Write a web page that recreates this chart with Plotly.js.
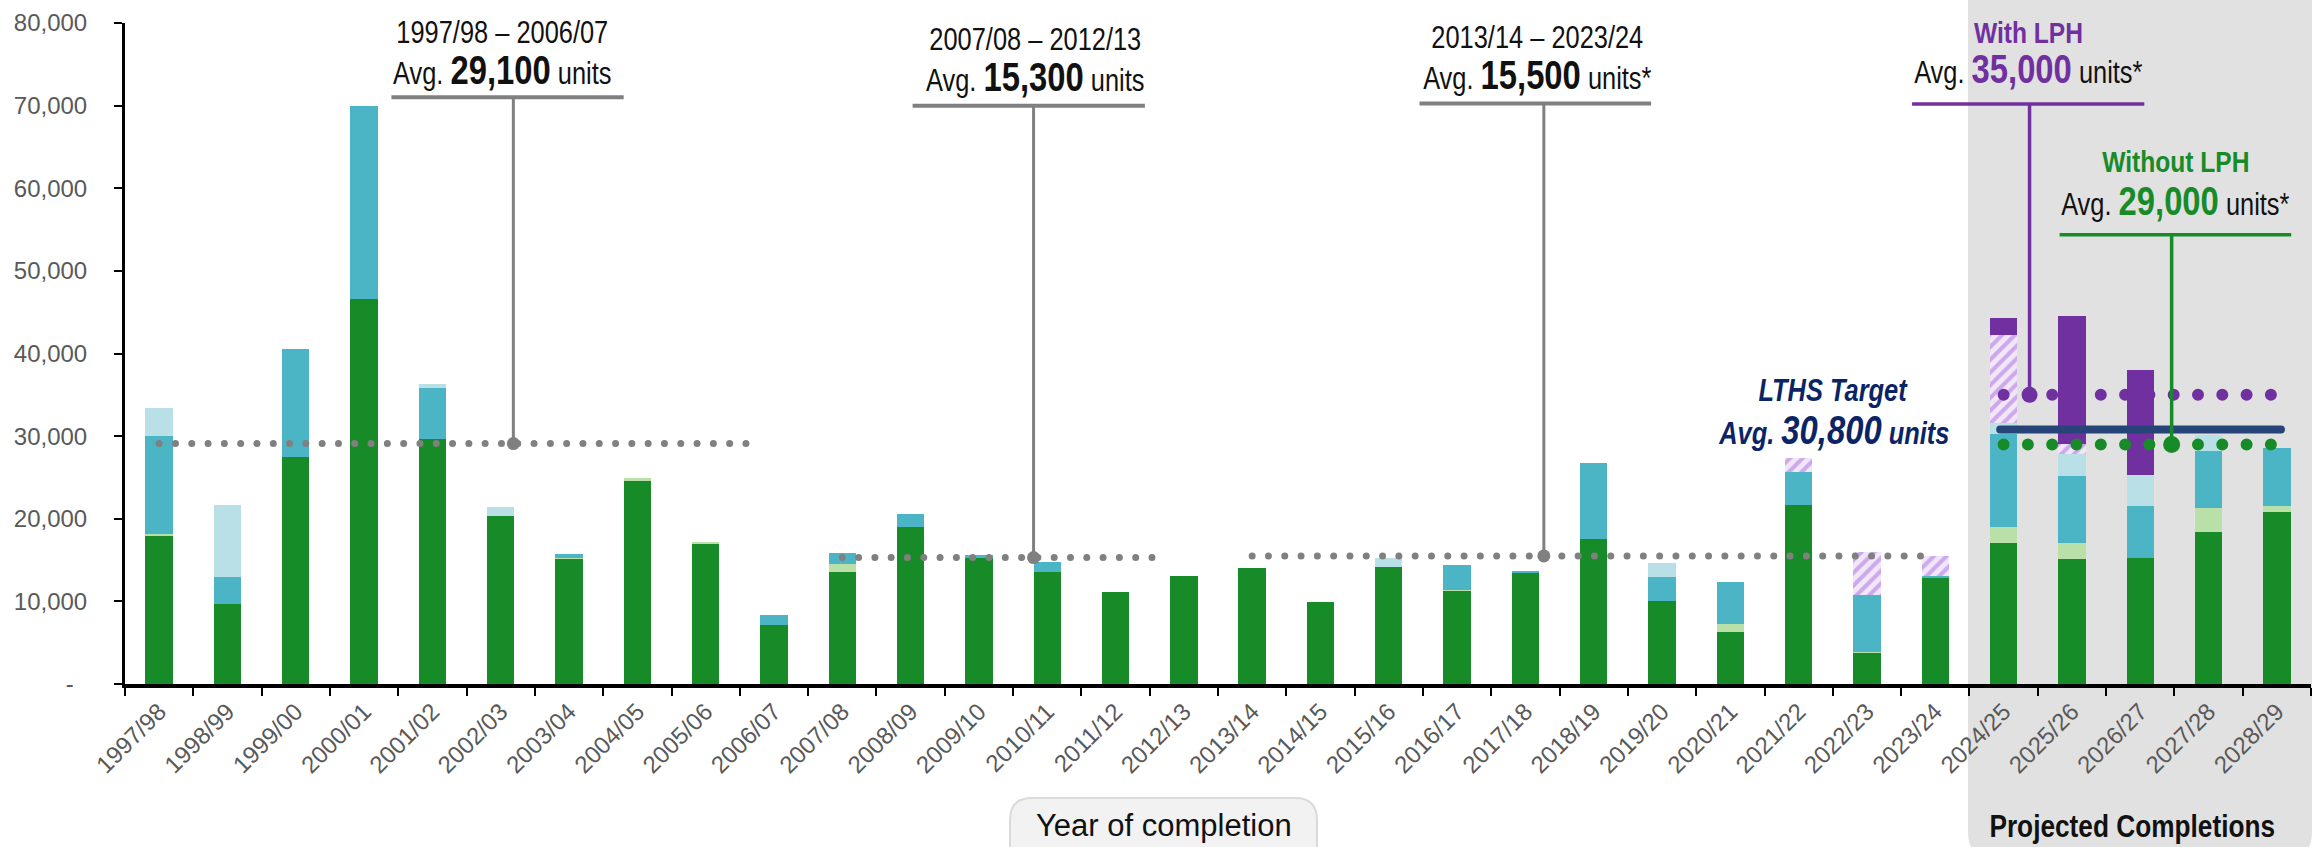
<!DOCTYPE html>
<html>
<head>
<meta charset="utf-8">
<script src="https://cdn.plot.ly/plotly-3.0.1.min.js"></script>
<style>
  html, body { margin: 0; padding: 0; background: #ffffff; }
  #chart { width: 2318px; height: 847px; }
  .scatterlayer .js-line { stroke-linecap: round !important; }
</style>
</head>
<body>
<div id="chart"></div>
<script>
// ---------------- DATA ----------------
const categories = ['1997/98','1998/99','1999/00','2000/01','2001/02','2002/03','2003/04','2004/05','2005/06','2006/07',
  '2007/08','2008/09','2009/10','2010/11','2011/12','2012/13','2013/14','2014/15','2015/16','2016/17',
  '2017/18','2018/19','2019/20','2020/21','2021/22','2022/23','2023/24','2024/25','2025/26','2026/27','2027/28','2028/29'];

const darkGreenUnits  = [17900, 9700,27500,46600,29700,20300,15100,24600,17000, 7200,
                         13600,19000,15300,13600,11100,13100,14000, 9900,14200,11200,
                         13400,17500,10000, 6300,21700, 3700,12800,17100,15100,15300,18400,20800];
const lightGreenUnits = [  200,    0,    0,    0,    0,    0,  200,  300,  150,    0,
                           900,    0,    0,    0,    0,    0,    0,    0,    0,  150,
                             0,    0,    0, 1000,    0,  200,    0, 1900, 1950,    0, 2950,  700];
const tealUnits       = [11950, 3300,13100,23400, 6100,    0,  400,    0,    0, 1200,
                          1400, 1600,  350, 1200,    0,    0,    0,    0,    0, 3100,
                           300, 9200, 3000, 5000, 4000, 6900,  300,11200, 8100, 6200, 6850, 7050];
const lightBlueUnits  = [ 3300, 8700,    0,    0,  500, 1100,    0,    0,    0,    0,
                             0,    0,    0,    0,    0,    0,    0,    0, 1000,    0,
                             0,    0, 1600,    0,    0,    0,    0, 1400, 2700, 3850, 1900,    0];
const hatchedUnits    = [    0,    0,    0,    0,    0,    0,    0,    0,    0,    0,
                             0,    0,    0,    0,    0,    0,    0,    0,    0,    0,
                             0,    0,    0,  100, 1600, 5200, 2400,10700, 1250,    0,    0,    0];
const lphUnits        = [    0,    0,    0,    0,    0,    0,    0,    0,    0,    0,
                             0,    0,    0,    0,    0,    0,    0,    0,    0,    0,
                             0,    0,    0,    0,    0,    0,    0, 2050,15400,12700,    0,    0];

const yTickValues = [0,10000,20000,30000,40000,50000,60000,70000,80000];
const yTickLabels = ['-\u00a0\u00a0','10,000','20,000','30,000','40,000','50,000','60,000','70,000','80,000'];

const periodLabels   = ['1997/98 \u2013 2006/07','2007/08 \u2013 2012/13','2013/14 \u2013 2023/24'];
const periodStart    = ['1997/98','2007/08','2013/14'];
const periodEnd      = ['2006/07','2012/13','2023/24'];
const periodAvg      = [29100, 15300, 15500];
const periodAvgText  = ['29,100','15,300','15,500'];
const periodSuffix   = ['','','*'];

const projStart = '2024/25';
const projEnd   = '2028/29';
const avgWithLPH = 35000,    avgWithLPHText = '35,000';
const avgWithoutLPH = 29000, avgWithoutLPHText = '29,000';
const lthsTarget = 30800,    lthsTargetText = '30,800';

// ---------------- STYLE / LAYOUT ----------------
const C = {
  green:'#178B28', lightGreen:'#B9E0A9', teal:'#4BB5C5', lightBlue:'#B8E0E6',
  purple:'#7030A0', navy:'#264478', navyText:'#0A2466', gray:'#808080', shade:'#E1E1E1'
};
const NARROW = '"Liberation Sans Narrow", "Arial Narrow", "Liberation Sans", Arial, sans-serif';
const SANS = '"Liberation Sans", Arial, sans-serif';
const CONDENSE = 0.82;   // horizontal squeeze to imitate a narrow face

// plot area in page pixels
const L = 125, R = 2311, T = 23, B = 684, W = 2318, H = 847;
const pyToVal = py => (B - py) / (B - T) * 80000;
const pxToPaper = px => (px - L) / (R - L);
const pyToPaper = py => (B - py) / (B - T);
const idx = c => categories.indexOf(c);

const barCommon = {type:'bar', x:categories, hoverinfo:'x+y+name'};
const traces = [
  Object.assign({}, barCommon, {name:'Private', y:darkGreenUnits, marker:{color:C.green}}),
  Object.assign({}, barCommon, {name:'Subsidised (other)', y:lightGreenUnits, marker:{color:C.lightGreen}}),
  Object.assign({}, barCommon, {name:'Public rental', y:tealUnits, marker:{color:C.teal}}),
  Object.assign({}, barCommon, {name:'Subsidised sale', y:lightBlueUnits, marker:{color:C.lightBlue}}),
  Object.assign({}, barCommon, {name:'Transitional', y:hatchedUnits,
     marker:{color:'#F1E7F9', pattern:{shape:'/', fgcolor:'#CDA9EC', bgcolor:'#F1E7F9', size:9, solidity:0.45}}}),
  Object.assign({}, barCommon, {name:'LPH', y:lphUnits, marker:{color:C.purple}})
];

// period averages (dotted)
const segTrim = [0.19, 0.23, 0.0];
periodAvg.forEach((v, i) => {
  traces.push({type:'scatter', mode:'lines', xaxis:'x2', yaxis:'y', hoverinfo:'skip',
    x:[idx(periodStart[i]), idx(periodEnd[i]) - segTrim[i]], y:[v, v],
    line:{color:C.gray, width:7, dash:'0px,16.3px'}});
});
// projected averages
traces.push({type:'scatter', mode:'lines', xaxis:'x2', yaxis:'y', hoverinfo:'skip',
  x:[idx(projStart), idx(projEnd) - 0.08], y:[avgWithLPH, avgWithLPH],
  line:{color:C.purple, width:12, dash:'0px,24.3px'}});
traces.push({type:'scatter', mode:'lines', xaxis:'x2', yaxis:'y', hoverinfo:'skip',
  x:[idx(projStart), idx(projEnd) - 0.08], y:[avgWithoutLPH, avgWithoutLPH],
  line:{color:C.green, width:12, dash:'0px,24.3px'}});
traces.push({type:'scatter', mode:'lines', xaxis:'x2', yaxis:'y', hoverinfo:'skip',
  x:[idx(projStart) - 0.05, idx(projEnd) + 0.06], y:[lthsTarget, lthsTarget],
  line:{color:C.navy, width:8}});

// callout positions (category-index units on x2)
const periodLineX = [5.185, 12.80, 20.27];
const periodTextX = [5.03, 12.83, 20.18];
const periodUnder = [[3.40, 6.80],[11.03, 14.43],[18.45, 21.84]];
const periodPy1 = [32.8, 39, 37.5], periodPy2 = [69.9, 77, 75.4], periodPyU = [97.3, 105.8, 103.6];

traces.push({type:'scatter', mode:'markers', xaxis:'x2', yaxis:'y', hoverinfo:'skip',
  x:periodLineX, y:periodAvg, marker:{color:C.gray, size:13}});
traces.push({type:'scatter', mode:'markers', xaxis:'x2', yaxis:'y', hoverinfo:'skip',
  x:[27.38], y:[avgWithLPH], marker:{color:C.purple, size:16}});
traces.push({type:'scatter', mode:'markers', xaxis:'x2', yaxis:'y', hoverinfo:'skip',
  x:[29.46], y:[avgWithoutLPH], marker:{color:C.green, size:17}});

const shapes = [];
const annotations = [];
const condensed = [];   // indices of annotations drawn in a narrow style
function addNote(a, narrow) { if (narrow) condensed.push(annotations.length); annotations.push(a); }

// projected shaded box (rounded bottom corners)
(function(){
  const x0 = pxToPaper(1968), x1 = pxToPaper(2312), yt = pyToPaper(-5), yb = pyToPaper(858);
  const rx = 26 / (R - L), ry = 26 / (B - T);
  shapes.push({type:'path', xref:'paper', yref:'paper', layer:'below', fillcolor:C.shade, line:{width:0},
    path:`M ${x0},${yt} L ${x0},${yb+ry} Q ${x0},${yb} ${x0+rx},${yb} L ${x1-rx},${yb} Q ${x1},${yb} ${x1},${yb+ry} L ${x1},${yt} Z`});
  // "Year of completion" box
  const bx0 = pxToPaper(1010), bx1 = pxToPaper(1317), byt = pyToPaper(798), byb = pyToPaper(880);
  const brx = 22 / (R - L), bry = 22 / (B - T);
  shapes.push({type:'path', xref:'paper', yref:'paper', layer:'below', fillcolor:'#F2F2F2', line:{color:'#DADADA', width:2},
    path:`M ${bx0},${byb} L ${bx0},${byt-bry} Q ${bx0},${byt} ${bx0+brx},${byt} L ${bx1-brx},${byt} Q ${bx1},${byt} ${bx1},${byt-bry} L ${bx1},${byb} Z`});
})();

periodLabels.forEach((lab, i) => {
  shapes.push({type:'line', xref:'x2', yref:'y', x0:periodUnder[i][0], x1:periodUnder[i][1],
    y0:pyToVal(periodPyU[i]), y1:pyToVal(periodPyU[i]), line:{color:C.gray, width:4}});
  shapes.push({type:'line', xref:'x2', yref:'y', x0:periodLineX[i], x1:periodLineX[i],
    y0:pyToVal(periodPyU[i]), y1:periodAvg[i], line:{color:C.gray, width:3}});
  addNote({xref:'x2', yref:'y', x:periodTextX[i], y:pyToVal(periodPy1[i]), text:lab, showarrow:false,
    xanchor:'center', yanchor:'middle', font:{family:NARROW, size:31, color:'#111111'}}, true);
  addNote({xref:'x2', yref:'y', x:periodTextX[i], y:pyToVal(periodPy2[i]), showarrow:false,
    text:`Avg. <b><span style="font-size:40px">${periodAvgText[i]}</span></b> units${periodSuffix[i]}`,
    xanchor:'center', yanchor:'middle', font:{family:NARROW, size:31, color:'#111111'}}, true);
});

// With LPH callout
shapes.push({type:'line', xref:'x2', yref:'y', x0:25.66, x1:29.06, y0:pyToVal(104), y1:pyToVal(104), line:{color:C.purple, width:3.5}});
shapes.push({type:'line', xref:'x2', yref:'y', x0:27.38, x1:27.38, y0:pyToVal(104), y1:avgWithLPH, line:{color:C.purple, width:3.5}});
addNote({xref:'x2', yref:'y', x:27.36, y:pyToVal(32.2), text:'<b>With LPH</b>', showarrow:false,
  xanchor:'center', yanchor:'middle', font:{family:NARROW, size:30, color:C.purple}}, true);
addNote({xref:'x2', yref:'y', x:27.36, y:pyToVal(69.2), showarrow:false,
  text:`Avg. <b><span style="font-size:40px;color:${C.purple}">${avgWithLPHText}</span></b> units*`,
  xanchor:'center', yanchor:'middle', font:{family:NARROW, size:31, color:'#111111'}}, true);

// Without LPH callout
shapes.push({type:'line', xref:'x2', yref:'y', x0:27.82, x1:31.21, y0:pyToVal(234.8), y1:pyToVal(234.8), line:{color:C.green, width:3.5}});
shapes.push({type:'line', xref:'x2', yref:'y', x0:29.46, x1:29.46, y0:pyToVal(234.8), y1:avgWithoutLPH, line:{color:C.green, width:3.5}});
addNote({xref:'x2', yref:'y', x:29.53, y:pyToVal(161.4), text:'<b>Without LPH</b>', showarrow:false,
  xanchor:'center', yanchor:'middle', font:{family:NARROW, size:30, color:C.green}}, true);
addNote({xref:'x2', yref:'y', x:29.52, y:pyToVal(201.4), showarrow:false,
  text:`Avg. <b><span style="font-size:40px;color:${C.green}">${avgWithoutLPHText}</span></b> units*`,
  xanchor:'center', yanchor:'middle', font:{family:NARROW, size:31, color:'#111111'}}, true);

// LTHS target
addNote({xref:'x2', yref:'y', x:24.51, y:pyToVal(390.2), text:'<b><i>LTHS Target</i></b>', showarrow:false,
  xanchor:'center', yanchor:'middle', font:{family:NARROW, size:31, color:C.navyText}}, true);
addNote({xref:'x2', yref:'y', x:24.51, y:pyToVal(429.7), showarrow:false,
  text:`<b><i>Avg. <span style="font-size:40px">${lthsTargetText}</span> units</i></b>`,
  xanchor:'center', yanchor:'middle', font:{family:NARROW, size:31, color:C.navyText}}, true);

// axis captions
addNote({xref:'paper', yref:'paper', x:pxToPaper(1164), y:pyToPaper(826), text:'Year of completion',
  showarrow:false, xanchor:'center', yanchor:'middle', font:{family:SANS, size:31, color:'#111111'}}, false);
addNote({xref:'paper', yref:'paper', x:pxToPaper(2132), y:pyToPaper(846), text:'<b>Projected Completions</b>',
  showarrow:false, xanchor:'center', yanchor:'bottom', font:{family:NARROW, size:32, color:'#111111'}}, true);

const layout = {
  width:W, height:H, autosize:false,
  margin:{l:L, r:W-R, t:T, b:H-B, pad:0},
  paper_bgcolor:'#ffffff', plot_bgcolor:'rgba(0,0,0,0)',
  showlegend:false, barmode:'stack', bargap:0.6,
  font:{family:SANS, color:'#595959'},
  xaxis:{type:'category', categoryorder:'array', categoryarray:categories, range:[-0.5, 31.5], fixedrange:true,
    showline:true, linecolor:'#000000', linewidth:4, ticks:'outside', tickson:'boundaries', ticklen:8, tickwidth:2, tickcolor:'#000000',
    tickangle:-45, tickfont:{family:SANS, size:24, color:'#595959'}, showgrid:false, zeroline:false, automargin:false},
  xaxis2:{type:'linear', overlaying:'x', anchor:'y', range:[-0.5, 31.5], visible:false, fixedrange:true},
  yaxis:{range:[0, 80000], tickvals:yTickValues, ticktext:yTickLabels, fixedrange:true,
    showline:true, linecolor:'#000000', linewidth:3, ticks:'outside', ticklen:8, tickwidth:2, tickcolor:'#000000',
    tickfont:{family:SANS, size:24, color:'#595959'}, ticklabelstandoff:22, showgrid:false, zeroline:false, automargin:false},
  shapes:shapes, annotations:annotations
};

function condenseNotes() {
  const groups = document.querySelectorAll('#chart g.annotation');
  groups.forEach(g => {
    const i = +g.getAttribute('data-index');
    if (condensed.indexOf(i) < 0) return;
    const t = g.querySelector('text.annotation-text');
    if (!t) return;
    const bb = t.getBBox();
    const cx = bb.x + bb.width / 2;
    t.setAttribute('transform', `translate(${cx},0) scale(${CONDENSE},1) translate(${-cx},0)`);
  });
}

Plotly.newPlot('chart', traces, layout, {displayModeBar:false, staticPlot:true}).then(condenseNotes);
</script>
</body>
</html>
